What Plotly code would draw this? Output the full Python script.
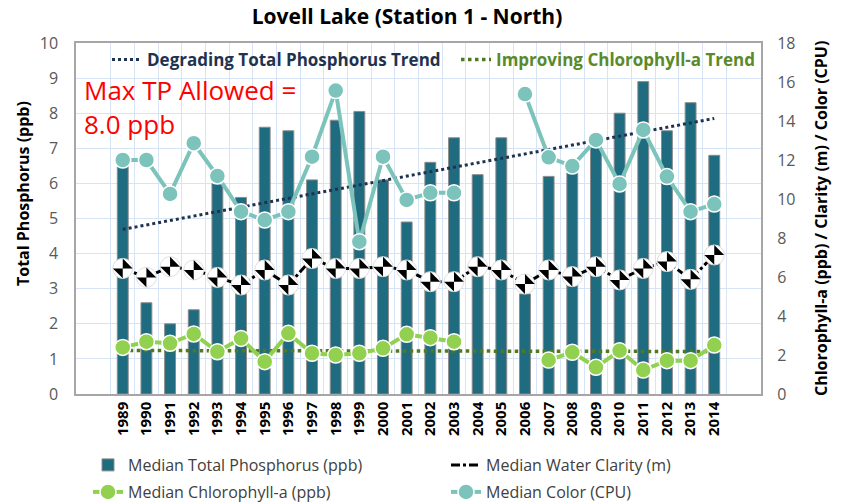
import plotly.graph_objects as go

years = [str(y) for y in range(1989, 2015)]

tp = [6.5, 2.6, 2.0, 2.4, 6.0, 5.6, 7.6, 7.5, 6.1, 7.8, 8.05, 6.1, 4.9, 6.6, 7.3,
      6.25, 7.3, 2.85, 6.2, 6.3, 7.1, 8.0, 8.9, 7.5, 8.3, 6.8]

clarity = [6.44, 5.98, 6.53, 6.36, 5.98, 5.59, 6.36, 5.59, 6.95, 6.44, 6.44, 6.53, 6.36,
           5.76, 5.76, 6.53, 6.36, 5.64, 6.36, 6.02, 6.53, 5.85, 6.44, 6.79, 5.88, 7.13]

chla = [2.39, 2.68, 2.60, 3.08, 2.17, 2.85, 1.66, 3.11, 2.09, 2.0, 2.09, 2.34, 3.06,
        2.89, 2.68, None, None, None, 1.74, 2.14, 1.37, 2.22, 1.23, 1.71, 1.71, 2.51]

color = [12.0, 12.0, 10.26, 12.86, 11.18, 9.35, 8.92, 9.35, 12.17, 15.56, 7.81, 12.17, 9.95,
         10.32, 10.32, None, None, 15.38, 12.14, 11.69, 13.03, 10.77, 13.54, 11.15, 9.35, 9.74]

trend_x = ["1989", "2014"]
tp_trend = [4.69, 7.85]
chla_trend = [2.23, 2.18]

FONT = "Open Sans"
NAVY = "#1f3350"
OLIVE = "#4f7a21"

W, H = 843, 504
ML, MR, MT, MB = 76, 82, 43, 110
PW, PH = W - ML - MR, H - MT - MB

fig = go.Figure()

fig.add_trace(go.Bar(
    x=years, y=tp, name="Median Total Phosphorus (ppb)",
    marker=dict(color="#1f6b80", line=dict(color="#8c8c8c", width=1)),
    width=0.46, yaxis="y", legend="legend",
))

fig.add_trace(go.Scatter(
    x=trend_x, y=tp_trend, mode="lines", name="Degrading Total Phosphorus Trend",
    line=dict(color=NAVY, width=3, dash="dot"), yaxis="y", legend="legend2",
))
fig.add_trace(go.Scatter(
    x=trend_x, y=chla_trend, mode="lines", name="Improving Chlorophyll-a Trend",
    line=dict(color=OLIVE, width=3.5, dash="dot"), yaxis="y2", legend="legend6",
))

# Clarity
fig.add_trace(go.Scatter(
    x=years, y=clarity, mode="lines", name="Median Water Clarity (m)",
    line=dict(color="black", width=3, dash="dashdot"),
    yaxis="y2", legend="legend3",
))
fig.add_trace(go.Scatter(
    x=years, y=clarity, mode="markers", showlegend=False, hoverinfo="skip",
    marker=dict(color="white", size=20, symbol="circle", line=dict(color="#e0e0e0", width=1)),
    yaxis="y2",
))
fig.add_trace(go.Scatter(
    x=years, y=clarity, mode="markers", showlegend=False,
    marker=dict(color="black", size=14, symbol="bowtie", angle=-45, line=dict(width=0)),
    yaxis="y2",
))

# Color
fig.add_trace(go.Scatter(
    x=years, y=color, mode="lines+markers", name="Median Color (CPU)",
    line=dict(color="#7cc4bb", width=4),
    marker=dict(color="#7cc4bb", size=16, line=dict(color="white", width=1.5)),
    yaxis="y2", legend="legend5", connectgaps=False,
))

# Chlorophyll
fig.add_trace(go.Scatter(
    x=years, y=chla, mode="lines+markers", name="Median Chlorophyll-a (ppb)",
    line=dict(color="#92d050", width=4),
    marker=dict(color="#92d050", size=16, line=dict(color="white", width=1.5)),
    yaxis="y2", legend="legend4", connectgaps=False,
))

fig.add_annotation(
    text="Max TP Allowed =<br>8.0 ppb", xref="paper", yref="paper",
    x=0.0088, y=0.923, xanchor="left", yanchor="top", align="left", showarrow=False,
    font=dict(family=FONT, size=26, color="#ff0000"),
)
fig.add_annotation(
    text="<b>Total Phosphorus (ppb)</b>", xref="paper", yref="paper",
    x=(23 - ML) / PW, y=(MT + PH - 194) / PH, xanchor="center", yanchor="middle",
    textangle=-90, showarrow=False, font=dict(family=FONT, size=16, color="#000000"),
)
fig.add_annotation(
    text="<b>Chlorophyll-a (ppb) / Clarity (m) / Color (CPU)</b>", xref="paper", yref="paper",
    x=(821 - ML) / PW, y=(MT + PH - 218) / PH, xanchor="center", yanchor="middle",
    textangle=-90, showarrow=False, font=dict(family=FONT, size=16, color="#000000"),
)


def bottom_legend(px, py):
    return dict(orientation="h", xref="container", yref="container", xanchor="left",
                yanchor="middle", x=px / W, y=1 - py / H,
                font=dict(family=FONT, size=16, color="#404040"), bgcolor="rgba(0,0,0,0)")


def top_legend(px, col):
    return dict(orientation="h", xref="paper", yref="paper", x=(px - ML) / PW,
                y=(MT + PH - 60) / PH, xanchor="left", yanchor="middle",
                font=dict(family=FONT, size=17, color=col, weight="bold"),
                bgcolor="rgba(0,0,0,0)")


fig.update_layout(
    width=W, height=H,
    margin=dict(l=ML, r=MR, t=MT, b=MB),
    paper_bgcolor="white", plot_bgcolor="white",
    font=dict(family=FONT, color="#000000"),
    title=dict(text="<b>Lovell Lake (Station 1 - North)</b>", x=407 / W, xref="container",
               xanchor="center", y=1 - 17 / H, yanchor="middle",
               font=dict(family=FONT, size=21, color="#000000")),
    xaxis=dict(
        type="category", tickson="boundaries", showgrid=True, gridcolor="#d7e4f5",
        gridwidth=1, tickangle=-90, ticks="",
        tickfont=dict(family=FONT, size=15, color="#000000", weight="bold"),
        showline=True, linecolor="#a6a6a6", mirror=True, linewidth=1.5,
    ),
    yaxis=dict(
        range=[0, 10], dtick=1, showgrid=True, gridcolor="#d7e4f5", gridwidth=1,
        tickfont=dict(family=FONT, size=16, color="#595959"),
        ticks="outside", ticklen=13, tickcolor="rgba(0,0,0,0)",
        showline=True, linecolor="#a6a6a6", mirror=True, linewidth=1.5,
        zeroline=False,
    ),
    yaxis2=dict(
        range=[0, 18], dtick=2, overlaying="y", side="right", showgrid=False,
        tickfont=dict(family=FONT, size=16, color="#595959"),
        ticks="outside", ticklen=12, tickcolor="rgba(0,0,0,0)",
        zeroline=False,
    ),
    legend=bottom_legend(88, 465),
    legend3=bottom_legend(446, 465),
    legend4=bottom_legend(88, 492),
    legend5=bottom_legend(446, 492),
    legend2=top_legend(107, NAVY),
    legend6=top_legend(456, "#5a8a2a"),
)

fig.write_html("out.html", config={"displayModeBar": False},
               post_script="document.body.style.margin='0px';")
